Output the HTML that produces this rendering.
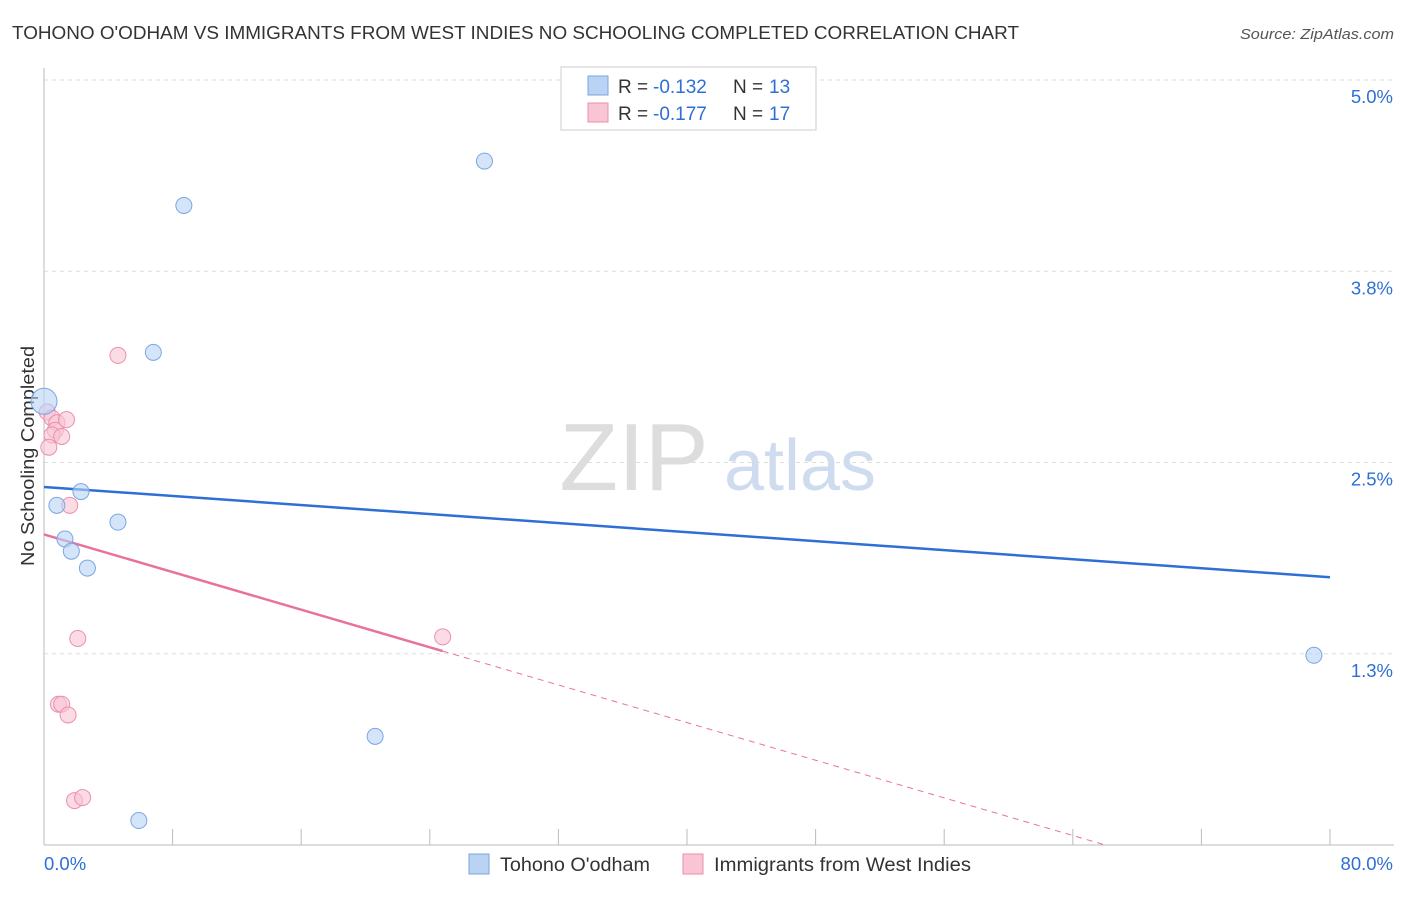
<!DOCTYPE html>
<html><head><meta charset="utf-8"><style>
body{margin:0;background:#fff;font-family:"Liberation Sans",sans-serif;}
svg text{font-family:"Liberation Sans",sans-serif;}
</style></head><body>
<svg id="chart" width="1406" height="892" xmlns="http://www.w3.org/2000/svg">
<text x="12" y="39" font-size="18" fill="#333" textLength="1007" lengthAdjust="spacingAndGlyphs">TOHONO O'ODHAM VS IMMIGRANTS FROM WEST INDIES NO SCHOOLING COMPLETED CORRELATION CHART</text>
<text x="1394" y="39" font-size="15" fill="#555" text-anchor="end" font-style="italic" textLength="154" lengthAdjust="spacingAndGlyphs">Source: ZipAtlas.com</text>
<text transform="translate(34,456) rotate(-90)" font-size="18" fill="#333" text-anchor="middle" textLength="220" lengthAdjust="spacingAndGlyphs">No Schooling Completed</text>
<g><text x="634" y="490" font-size="96" fill="#ddd" text-anchor="middle" font-family="Liberation Serif">ZIP</text><text x="800" y="490" font-size="72" fill="#cfdcef" text-anchor="middle">atlas</text></g>
<g id="grid"></g><g id="axes"></g><g id="lines"></g><g id="pts"></g>
<g>
<rect x="561" y="67" width="255" height="63" fill="#fff" stroke="#ccc"/>
<rect x="588" y="76" width="20" height="19" fill="#b9d3f5" stroke="#7aa6e0"/>
<text x="618" y="93" font-size="19" fill="#333">R =</text><text x="653" y="93" font-size="19" fill="#2e6fd6">-0.132</text>
<text x="733" y="93" font-size="19" fill="#333">N =</text><text x="769" y="93" font-size="19" fill="#2e6fd6">13</text>
<rect x="588" y="103" width="20" height="19" fill="#f9c4d4" stroke="#eb8fae"/>
<text x="618" y="120" font-size="19" fill="#333">R =</text><text x="653" y="120" font-size="19" fill="#2e6fd6">-0.177</text>
<text x="733" y="120" font-size="19" fill="#333">N =</text><text x="769" y="120" font-size="19" fill="#2e6fd6">17</text>
</g>
<g>
<rect x="469" y="854" width="20" height="20" fill="#b9d3f5" stroke="#7aa6e0"/>
<text x="500" y="871" font-size="19" fill="#333" textLength="150" lengthAdjust="spacingAndGlyphs">Tohono O'odham</text>
<rect x="683" y="854" width="20" height="20" fill="#f9c4d4" stroke="#eb8fae"/>
<text x="714" y="871" font-size="19" fill="#333" textLength="257" lengthAdjust="spacingAndGlyphs">Immigrants from West Indies</text>
</g>
</svg>
<script>
const xTicks=[0,8,16,24,32,40,48,56,64,72,80];
const yTicks=[1.25,2.5,3.75,5];
const yTickLabels=["1.3%","2.5%","3.8%","5.0%"];
const blueX=[0,0.8,2.3,1.3,1.7,2.7,4.6,6.8,8.7,5.9,20.6,27.4,79.0];
const blueY=[2.9,2.22,2.31,2.0,1.92,1.81,2.11,3.22,4.18,0.16,0.71,4.47,1.24];
const blueR=[13,8,8,8,8,8,8,8,8,8,8,8,8];
const pinkX=[4.6,0.2,0.5,0.8,0.7,1.4,0.5,1.1,0.3,1.6,2.1,24.8,0.9,1.1,1.5,1.9,2.4];
const pinkY=[3.2,2.83,2.79,2.76,2.71,2.78,2.68,2.67,2.6,2.22,1.35,1.36,0.92,0.92,0.85,0.29,0.31];
const blueLine=[2.34,1.75];
const pinkLine=[2.03,-0.43];
const pinkSolidEnd=24.8;
const X=v=>44+v/80*1286, Y=v=>845-v/5*765;
const NS="http://www.w3.org/2000/svg";
function mk(parent,tag,attrs){const e=document.createElementNS(NS,tag);for(const k in attrs)e.setAttribute(k,attrs[k]);document.getElementById(parent).appendChild(e);return e;}
yTicks.forEach((t,i)=>{
 const g=mk('grid','line',{x1:44,x2:1394,y1:Y(t),y2:Y(t),stroke:'#ddd','stroke-dasharray':'4,4'});
 
 
 const tx=mk('axes','text',{x:1393,y:Y(t)+23,'font-size':18.5,fill:'#2e6fd6','text-anchor':'end'});tx.textContent=yTickLabels[i];
 
 
});
const ax=mk('axes','line',{x1:44,x2:1394,y1:845,y2:845,stroke:'#bbb'});


const ay=mk('axes','line',{x1:44,x2:44,y1:68,y2:845,stroke:'#bbb'});


xTicks.forEach(t=>{const l=mk('axes','line',{x1:X(t),x2:X(t),y1:829,y2:845,stroke:'#bbb'});
 
 });
let t0=mk('axes','text',{x:44,y:870,'font-size':18.5,fill:'#2e6fd6'});t0.textContent='0.0%';


let t1=mk('axes','text',{x:1393,y:870,'font-size':18.5,fill:'#2e6fd6','text-anchor':'end'});t1.textContent='80.0%';


const bl=mk('lines','line',{x1:X(0),y1:Y(blueLine[0]),x2:X(80),y2:Y(blueLine[1]),stroke:'#2e6fd6','stroke-width':2.5});


const pAt=x=>pinkLine[0]+(pinkLine[1]-pinkLine[0])*x/80;
const ps=mk('lines','line',{x1:X(0),y1:Y(pinkLine[0]),x2:X(pinkSolidEnd),y2:Y(pAt(pinkSolidEnd)),stroke:'#e8739a','stroke-width':2.5});


const xEnd=80*(pinkLine[0])/(pinkLine[0]-pinkLine[1]);
const pd=mk('lines','line',{x1:X(pinkSolidEnd),y1:Y(pAt(pinkSolidEnd)),x2:X(xEnd),y2:Y(0),stroke:'#e8739a','stroke-width':1,'stroke-dasharray':'6,5'});


pinkX.forEach((x,i)=>{const c=mk('pts','circle',{cx:X(x),cy:Y(pinkY[i]),r:8,fill:'rgba(249,196,212,0.6)',stroke:'#eb8fae','stroke-width':1});
 
 });
blueX.forEach((x,i)=>{const c=mk('pts','circle',{cx:X(x),cy:Y(blueY[i]),r:blueR[i],fill:'rgba(185,211,245,0.6)',stroke:'#7aa6e0','stroke-width':1});
 
 });
</script>
</body></html>
